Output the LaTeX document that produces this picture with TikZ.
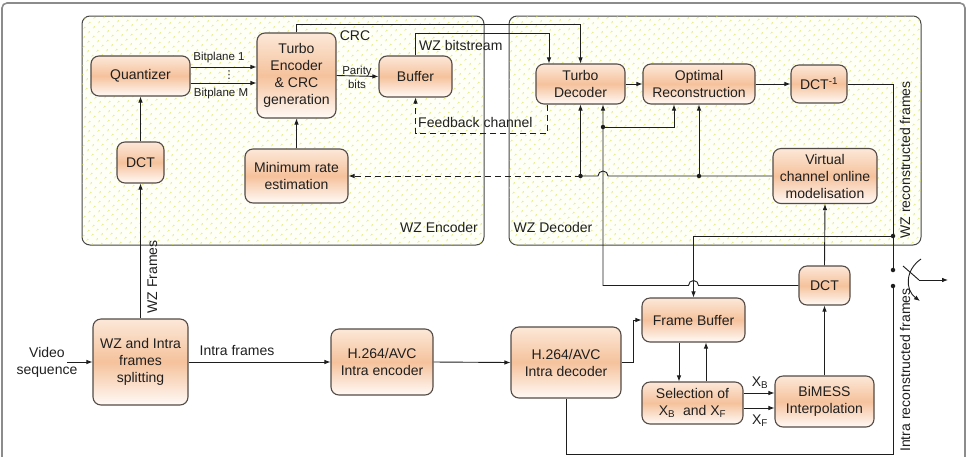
\documentclass[tikz,border=0pt]{standalone}
\usepackage{fontspec}
\setmainfont{Liberation Sans}
\newfontfamily\dejavu{DejaVu Sans}
\usetikzlibrary{arrows.meta,patterns.meta,calc}
\definecolor{boxline}{RGB}{85,75,70}
\definecolor{ctop}{RGB}{252,232,216}
\definecolor{cmid}{RGB}{245,194,156}
\definecolor{cbot}{RGB}{255,250,246}
\definecolor{linec}{RGB}{30,30,30}
\definecolor{dotc}{RGB}{212,226,70}
\definecolor{panelbg}{RGB}{254,255,246}
\definecolor{panelline}{RGB}{70,70,70}
\definecolor{framec}{RGB}{140,140,140}
\begin{document}
\begin{tikzpicture}[x=1pt,y=-1pt,
  blk/.style={draw=boxline, line width=1.1pt, rounded corners=8pt, top color=ctop, bottom color=cbot, middle color=cmid, align=center, inner sep=0pt, font=\fontsize{14}{17}\selectfont, text=black!88},
  lbl/.style={inner sep=0pt, font=\fontsize{14}{17}\selectfont, text=black!88, align=center},
  slbl/.style={inner sep=0pt, font=\fontsize{11.5}{14}\selectfont, text=black!88, align=center},
  conn/.style={draw=linec, line width=0.9pt},
  arr/.style={conn, -{Latex[length=6pt,width=4.6pt]}},
  dsh/.style={dash pattern=on 6pt off 4pt},
  jdot/.style={circle, fill=linec, inner sep=0pt, minimum size=4.5pt},
  panel/.style={draw=panelline, line width=1pt, rounded corners=8pt, fill=panelbg, postaction={pattern={Dots[distance=6.5pt,radius=0.9pt,angle=45]}, pattern color=dotc}},
]
\useasboundingbox (0,0) rectangle (974,456);
\clip (0,0) rectangle (974,456);
% outer frame
\draw[framec, line width=1.6pt, rounded corners=5pt] (2,3) rectangle (965,480);
% panels
\path[panel] (82,16) rectangle (484,245);
\path[panel] (509,16) rectangle (921,245);
\node[lbl, anchor=center] (wzenc) at (439,227) {WZ Encoder};
\node[lbl, anchor=center] (wzdec) at (553,227) {WZ Decoder};

% blocks
\node[blk, minimum width=99pt, minimum height=40pt] (q) at (140.5,76) {Quantizer};
\node[blk, minimum width=47pt, minimum height=41pt] (dcte) at (140.5,162.5) {DCT};
\node[blk, minimum width=79pt, minimum height=85pt] (te) at (296.5,75.5) {Turbo\\Encoder\\\& CRC\\generation};
\node[blk, minimum width=73pt, minimum height=41pt] (buf) at (415.5,76.5) {Buffer};
\node[blk, minimum width=103pt, minimum height=54pt] (mr) at (296.5,176) {Minimum rate\\estimation};
\node[blk, minimum width=89pt, minimum height=40pt] (td) at (580.5,84) {Turbo\\Decoder};
\node[blk, minimum width=112pt, minimum height=40pt] (orc) at (699,84) {Optimal\\Reconstruction};
\node[blk, minimum width=56pt, minimum height=38pt] (idct) at (819,84) {DCT\textsuperscript{-1}};
\node[blk, minimum width=104pt, minimum height=55pt] (vc) at (825,176) {Virtual\\channel online\\modelisation};
\node[blk, minimum width=95pt, minimum height=86pt] (sp) at (140.5,362) {WZ and Intra\\frames\\splitting};
\node[blk, minimum width=102pt, minimum height=66pt] (ie) at (382,362) {H.264/AVC\\Intra encoder};
\node[blk, minimum width=110pt, minimum height=71pt] (id) at (566,362.5) {H.264/AVC\\Intra decoder};
\node[blk, minimum width=103pt, minimum height=44pt] (fb) at (693.5,320) {Frame Buffer};
\node[blk, minimum width=101pt, minimum height=42pt] (sel) at (692.5,403) {Selection of\\X\textsubscript{B}\ \ and X\textsubscript{F}};
\node[blk, minimum width=99pt, minimum height=51pt] (bm) at (824.5,401.5) {BiMESS\\Interpolation};
\node[blk, minimum width=51pt, minimum height=39pt] (dctd) at (824.5,285.5) {DCT};

% encoder side
\draw[arr] (sp.north) -- (dcte.south);
\node[lbl, rotate=90] (wzf) at (152.5,277) {WZ Frames};
\draw[arr] (dcte.north) -- (q.south);
\coordinate (qa) at ([yshift=9pt]q.east);
\coordinate (qb) at ([yshift=-7pt]q.east);
\draw[arr] (qa) -- (qa -| te.west);
\draw[arr] (qb) -- (qb -| te.west);
\node[slbl] (bp1) at (219,58) {Bitplane 1};
\node[slbl] (bpm) at (221,94) {Bitplane M};
\node[inner sep=0pt, font=\dejavu\fontsize{11}{13}\selectfont, text=black!88] (vd) at (229,75) {⋮};
\draw[arr] (te.east) -- (buf.west);
\node[slbl] (par) at (357,77) {Parity\\bits};
\draw[arr] (mr.north) -- (te.south);

% CRC and bitstream
\draw[arr] (te.north) -- (te.north |- 0,24) -| (td.north);
\node[lbl] (crc) at (355,36) {CRC};
\coordinate (tdin) at ([xshift=-31.5pt]td.north);
\draw[arr] (buf.north) -- (buf.north |- 0,33) -| (tdin);
\node[lbl, anchor=west] (wzb) at (419,45) {WZ bitstream};
% feedback
\draw[arr, dsh] ([xshift=-33.5pt]td.south) -- ++(0,29) -| (buf.south);
\node[lbl, anchor=west] (fbc) at (418,122) {Feedback channel};

% decoder chain
\draw[arr] (td.east) -- (orc.west);
\draw[arr] (orc.east) -- (idct.west);
\coordinate (sw1) at (893,270);
\coordinate (sw2) at (893,286);
\coordinate (j1) at (893,236);
\coordinate (bot) at (893,454);
\draw[conn] (idct.east) -| (sw1);
\draw[arr] (j1) -| (fb.north);

% side information from DCT
\coordinate (tdb) at ([xshift=22.5pt]td.south);
\draw[arr] (dctd.west) -- (698.5,285.5) arc[start angle=0, end angle=-180, radius=5] -- (tdb |- dctd.west) -- (tdb);
\coordinate (j2) at (603,127);
\draw[arr] (j2) -| ([xshift=-25pt]orc.south);

% virtual channel
\coordinate (j3) at (699,176);
\coordinate (j4) at (580.5,176);
\draw[conn] (vc.west) -- (608,176) arc[start angle=0, end angle=-180, radius=5] -- (j4);
\draw[arr, dsh] (j4) -- (mr.east);
\draw[arr] (j3) -- (orc.south);
\draw[arr] (j4) -- (td.south);
\draw[arr] (dctd.north) -- (vc.south);
\draw[arr] (bm.north) -- (dctd.south);

% bottom chain
\node[lbl] (vs) at (47,362) {Video\\sequence};
\coordinate (vsa) at (67,362);
\draw[arr] (vsa) -- (sp.west);
\draw[arr] (sp.east) -- (ie.west);
\node[lbl] (inf) at (237,350) {Intra frames};
\draw[arr] (ie.east) -- (id.west);
\draw[arr] (id.east) -- ++(12,0) |- (fb.west);
\coordinate (fa) at ([xshift=-14.5pt]fb.south);
\draw[arr] (fa) -- (fa |- sel.north);
\coordinate (fu) at ([xshift=13.5pt]sel.north);
\draw[arr] (fu) -- (fu |- fb.south);
\coordinate (sa) at ([yshift=10pt]sel.east);
\coordinate (sb) at ([yshift=-5pt]sel.east);
\draw[arr] (sa) -- (sa -| bm.west);
\draw[arr] (sb) -- (sb -| bm.west);
\node[lbl] (xb) at (760,383) {X\textsubscript{B}};
\node[lbl] (xf) at (760,421) {X\textsubscript{F}};
\draw[conn] (id.south) |- (bot) -- (sw2);

% switch
\node[jdot] (d1) at (j1) {};
\node[jdot] (d2) at (sw1) {};
\node[jdot] (d3) at (sw2) {};
\node[jdot] (d4) at (j2) {};
\node[jdot] (d5) at (j3) {};
\node[jdot] (d6) at (j4) {};
\coordinate (lv1) at (903,266);
\coordinate (lv2) at (919,280);
\coordinate (lvo) at (948,280);
\draw[conn] (lv1) -- (lv2);
\draw[arr] (lv2) -- (lvo);
\coordinate (ca) at (921,259);
\coordinate (cb) at (920,301);
\draw[arr] (ca) .. controls (905,270) and (905,290) .. (cb);

\node[lbl, rotate=90] (wzr) at (905,160) {WZ reconstructed frames};
\node[lbl, rotate=90] (inr) at (905,370) {Intra reconstructed frames};
\end{tikzpicture}
\end{document}
